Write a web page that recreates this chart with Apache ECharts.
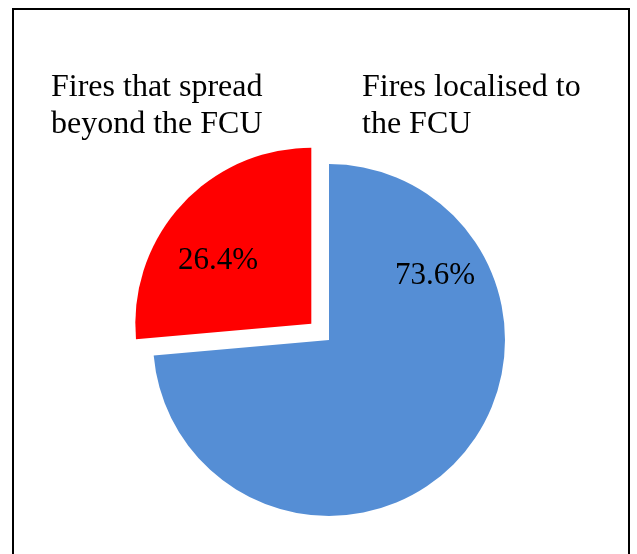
<!DOCTYPE html>
<html>
<head>
<meta charset="utf-8">
<script src="https://cdn.jsdelivr.net/npm/echarts@6/dist/echarts.min.js"></script>
<style>
    html, body { margin: 0; padding: 0; background: #fff; }
    #chart1 { width: 637px; height: 554px; }
</style>
</head>
<body>
<div id="chart1"></div>
<script>
    // data
    var categories = ['Fires localised to\nthe FCU', 'Fires that spread\nbeyond the FCU'];
    var shares = [73.6, 26.4];
    var colors = ['#558ed5', '#ff0000'];
    var explode = [0, 24]; // px the slice is pulled out

    // where the labels sit (Excel put them by hand)
    var pctPos = [[435, 276], [218, 261]];
    var namePos = [[362, 69], [51, 69]];

    var font = 'Liberation Serif';
    var center = [329, 340];
    var radius = 176;

    var total = shares.reduce(function(a, b) { return a + b; }, 0);

    // one pie per slice, so the exploded one can be shifted along its mid angle
    var series = [];
    var acc = 0;
    categories.forEach(function(name, k) {
        var midDeg = 90 - (acc + shares[k] / 2) / total * 360;
        acc += shares[k];
        var rad = midDeg * Math.PI / 180;
        var cx = center[0] + explode[k] * Math.cos(rad);
        var cy = center[1] - explode[k] * Math.sin(rad);

        series.push({
            type: 'pie',
            center: [cx, cy],
            radius: radius,
            startAngle: 90,
            clockwise: true,
            silent: true,
            emphasis: { disabled: true },
            label: {
                show: true,
                position: 'inside',
                color: '#000',
                fontFamily: font,
                fontSize: 31,
                formatter: function(p) {
                    return p.value.toFixed(1) + '%';
                }
            },
            labelLayout: function(params) {
                var pos = pctPos[params.dataIndex];
                return { x: pos[0], y: pos[1], align: 'center', verticalAlign: 'middle' };
            },
            labelLine: { show: false },
            data: categories.map(function(n, i) {
                var mine = i === k;
                return {
                    name: n,
                    value: shares[i],
                    itemStyle: { color: mine ? colors[i] : 'rgba(0,0,0,0)' },
                    label: { show: mine }
                };
            })
        });
    });

    var nameTexts = categories.map(function(name, i) {
        return {
            type: 'text',
            x: namePos[i][0],
            y: namePos[i][1],
            style: {
                text: name,
                fill: '#000',
                fontFamily: font,
                fontSize: 32,
                lineHeight: 37,
                textVerticalAlign: 'top'
            }
        };
    });

    var option = {
        backgroundColor: '#fff',
        animation: false,
        graphic: [{
            type: 'rect',
            shape: { x: 13, y: 9, width: 616, height: 560 },
            style: { fill: 'none', stroke: '#000', lineWidth: 2 }
        }].concat(nameTexts),
        series: series
    };

    var myChart = echarts.init(document.getElementById('chart1'));
    myChart.setOption(option);
</script>
</body>
</html>
